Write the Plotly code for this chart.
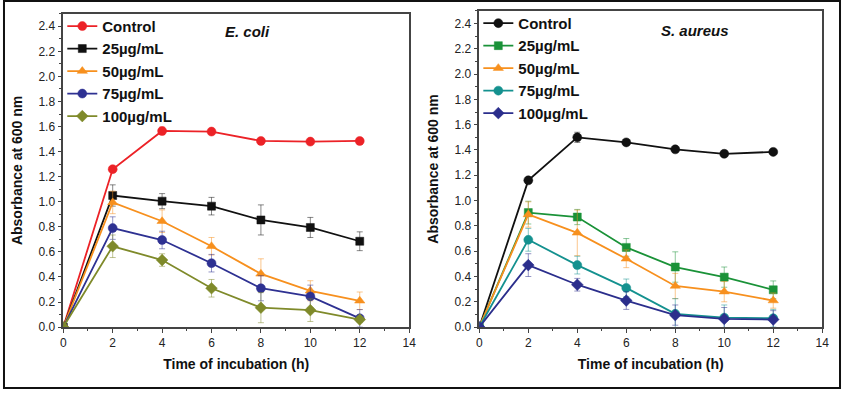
import plotly.graph_objects as go

time_h = [0, 2, 4, 6, 8, 10, 12]
series_names = ["Control", "25µg/mL", "50µg/mL", "75µg/mL", "100µg/mL"]

# E. coli
ecoli_control = [0, 1.26, 1.565, 1.56, 1.485, 1.48, 1.485]
ecoli_25 = [0, 1.05, 1.005, 0.965, 0.855, 0.795, 0.685]
ecoli_50 = [0, 0.995, 0.845, 0.645, 0.425, 0.29, 0.21]
ecoli_75 = [0, 0.79, 0.695, 0.51, 0.31, 0.245, 0.07]
ecoli_100 = [0, 0.645, 0.535, 0.31, 0.155, 0.135, 0.06]
ecoli_control_err = [0, 0.02, 0.03, 0.02, 0.015, 0.015, 0.015]
ecoli_25_err = [0, 0.085, 0.06, 0.07, 0.12, 0.08, 0.075]
ecoli_50_err = [0, 0.09, 0.09, 0.07, 0.12, 0.08, 0.07]
ecoli_75_err = [0, 0.09, 0.07, 0.07, 0.1, 0.09, 0.07]
ecoli_100_err = [0, 0.09, 0.05, 0.07, 0.12, 0.09, 0.02]

# S. aureus
saureus_control = [0, 1.16, 1.50, 1.46, 1.405, 1.37, 1.385]
saureus_25 = [0, 0.905, 0.87, 0.63, 0.475, 0.395, 0.295]
saureus_50 = [0, 0.89, 0.745, 0.54, 0.325, 0.28, 0.21]
saureus_75 = [0, 0.69, 0.49, 0.31, 0.105, 0.075, 0.07]
saureus_100 = [0, 0.49, 0.335, 0.21, 0.095, 0.065, 0.06]
saureus_control_err = [0, 0.02, 0.04, 0.02, 0.015, 0.02, 0.02]
saureus_25_err = [0, 0.09, 0.06, 0.07, 0.12, 0.08, 0.07]
saureus_50_err = [0, 0.1, 0.18, 0.07, 0.1, 0.08, 0.06]
saureus_75_err = [0, 0.09, 0.07, 0.07, 0.12, 0.1, 0.07]
saureus_100_err = [0, 0.09, 0.05, 0.07, 0.08, 0.09, 0.07]

ecoli_values = [ecoli_control, ecoli_25, ecoli_50, ecoli_75, ecoli_100]
ecoli_errors = [ecoli_control_err, ecoli_25_err, ecoli_50_err, ecoli_75_err, ecoli_100_err]
saureus_values = [saureus_control, saureus_25, saureus_50, saureus_75, saureus_100]
saureus_errors = [saureus_control_err, saureus_25_err, saureus_50_err, saureus_75_err, saureus_100_err]

ecoli_colors = ["#ec2227", "#111111", "#f7901e", "#2e3192", "#7f8a2a"]
saureus_colors = ["#111111", "#1a9238", "#f7901e", "#14918f", "#2b2e8c"]
symbols = ["circle", "square", "triangle-up", "circle", "diamond"]
sizes = [9, 8, 9, 9, 9]

def rgba(hexc, a):
    h = hexc.lstrip("#")
    r, g, b = int(h[0:2], 16), int(h[2:4], 16), int(h[4:6], 16)
    return f"rgba({r},{g},{b},{a})"

FONT = "Arial, Liberation Sans, sans-serif"
fig = go.Figure()

for panel, (vals, errs, cols, xa, ya, lg) in enumerate([
    (ecoli_values, ecoli_errors, ecoli_colors, "x", "y", "legend"),
    (saureus_values, saureus_errors, saureus_colors, "x2", "y2", "legend2"),
]):
    for i in range(5):
        fig.add_trace(go.Scatter(
            x=time_h, y=vals[i], name=series_names[i], mode="lines+markers",
            xaxis=xa, yaxis=ya, legend=lg,
            line=dict(color=cols[i], width=1.8),
            marker=dict(symbol=symbols[i], size=sizes[i], color=cols[i],
                        line=dict(color=cols[i], width=0.5)),
            error_y=dict(type="data", array=errs[i], visible=True,
                         color=rgba(cols[i], 0.5), thickness=1, width=3),
        ))

axis_common = dict(
    showline=True, linecolor="#444", linewidth=1.5, mirror=True,
    ticks="outside", ticklen=4, tickwidth=1, tickcolor="#444",
    showgrid=False, zeroline=False,
    tickfont=dict(family=FONT, size=12, color="#222"),
)
xaxis_common = dict(axis_common, range=[0, 14], tickvals=[0, 2, 4, 6, 8, 10, 12, 14],
                    minor=dict(dtick=1, ticks="outside", ticklen=2.5, tickcolor="#444"),
                    title=dict(text="<b>Time of incubation (h)</b>",
                               font=dict(family=FONT, size=14, color="#111"), standoff=10))
yaxis_common = dict(axis_common, range=[0, 2.5], tickvals=[round(0.2 * k, 1) for k in range(13)],
                    tickformat=".1f",
                    minor=dict(dtick=0.1, ticks="outside", ticklen=2.5, tickcolor="#444"),
                    title=dict(text="<b>Absorbance at 600 nm</b>",
                               font=dict(family=FONT, size=14, color="#111"), standoff=13))

W, H = 848, 396
legend_font = dict(family=FONT, size=15, color="#111", weight="bold")
fig.update_layout(
    width=W, height=H, autosize=False,
    margin=dict(l=0, r=0, t=0, b=0),
    paper_bgcolor="white", plot_bgcolor="white",
    xaxis=dict(xaxis_common, domain=[61 / W, 411 / W], anchor="y"),
    yaxis=dict(yaxis_common, domain=[(H - 333) / H, (H - 14) / H], anchor="x"),
    xaxis2=dict(xaxis_common, domain=[482 / W, 829 / W], anchor="y2"),
    yaxis2=dict(yaxis_common, domain=[(H - 333) / H, (H - 11) / H], anchor="x2"),
    legend=dict(x=60 / W, y=(H - 10) / H, xanchor="left", yanchor="top",
                bgcolor="rgba(0,0,0,0)", font=legend_font,
                itemwidth=30, tracegroupgap=0),
    legend2=dict(x=481 / W, y=(H - 7) / H, xanchor="left", yanchor="top",
                 bgcolor="rgba(0,0,0,0)", font=legend_font,
                 itemwidth=30, tracegroupgap=0),
    showlegend=True,
    annotations=[
        dict(text="<b><i>E. coli</i></b>", x=247 / W, y=(H - 32) / H, xref="paper", yref="paper",
             xanchor="center", yanchor="middle",
             showarrow=False, font=dict(family=FONT, size=15, color="#111")),
        dict(text="<b><i>S. aureus</i></b>", x=700 / W, y=(H - 31) / H, xref="paper", yref="paper",
             xanchor="center", yanchor="middle",
             showarrow=False, font=dict(family=FONT, size=15, color="#111")),
    ],
    shapes=[dict(type="rect", xref="paper", yref="paper", x0=1 / W, y0=1 / H,
                 x1=(W - 1) / W, y1=(H - 1) / H,
                 line=dict(color="#111", width=2))],
)

fig.write_html(
    "out.html",
    config={"responsive": False, "displayModeBar": False},
    post_script="document.body.style.margin='0';document.body.style.overflow='hidden';",
)
